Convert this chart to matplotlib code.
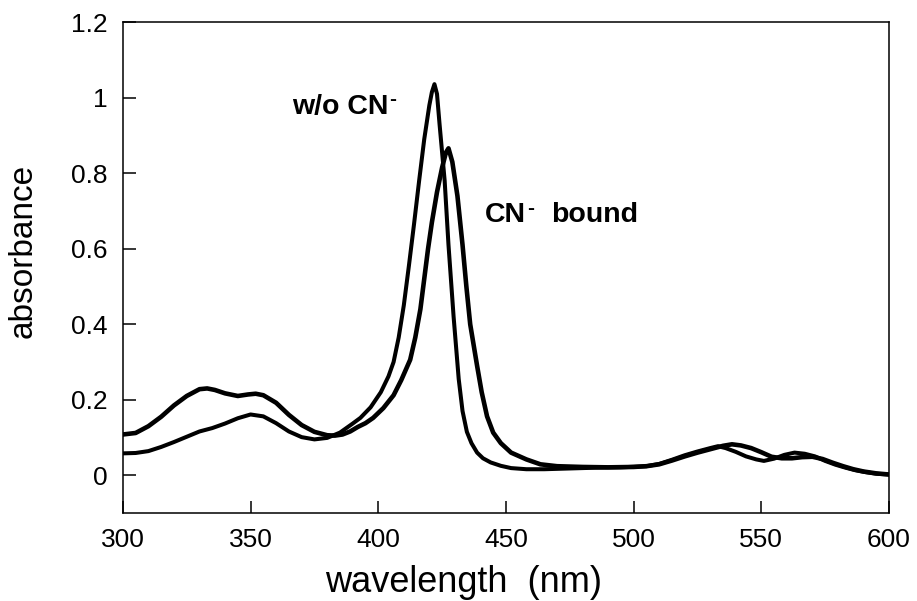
import matplotlib
matplotlib.use("Agg")
import matplotlib.pyplot as plt

plt.rcParams['font.family'] = ['Liberation Sans', 'DejaVu Sans']

# Spectrum without cyanide (w/o CN-)
wl_free = [300, 305, 310, 315, 320, 325, 330, 335, 340, 345, 350, 355, 360, 365, 370,
           375, 380, 385, 390, 393, 397, 401, 404, 406, 408, 410, 412, 414, 416, 418,
           420, 421, 422, 423, 424, 426, 427.5, 429.5, 431.5, 433, 434.7, 436.5, 438.7,
           441, 444, 448, 452, 458, 465, 475, 485, 495, 505, 510, 515, 520, 525, 530,
           533, 536, 540, 544, 548, 551, 555, 559, 563, 567, 571, 575, 579, 583, 587,
           591, 595, 600]
abs_free = [0.058, 0.059, 0.064, 0.075, 0.088, 0.102, 0.116, 0.125, 0.137, 0.151, 0.161,
            0.156, 0.138, 0.116, 0.101, 0.095, 0.099, 0.113, 0.137, 0.152, 0.180, 0.220,
            0.262, 0.300, 0.365, 0.450, 0.555, 0.665, 0.780, 0.890, 0.980, 1.015, 1.036,
            1.010, 0.930, 0.780, 0.610, 0.420, 0.255, 0.170, 0.115, 0.085, 0.060, 0.045,
            0.034, 0.025, 0.019, 0.016, 0.016, 0.018, 0.020, 0.021, 0.024, 0.030, 0.041,
            0.053, 0.063, 0.072, 0.077, 0.072, 0.062, 0.050, 0.042, 0.038, 0.044, 0.054,
            0.060, 0.057, 0.050, 0.038, 0.028, 0.020, 0.013, 0.008, 0.004, 0.002]

# Spectrum with cyanide bound
wl_cn = [300, 305, 310, 315, 320, 325, 330, 333, 336, 340, 345, 349, 352, 355, 360, 365,
         370, 375, 380, 383, 386, 389, 392, 395, 398, 402, 406, 409, 412.5, 414.5, 416.5,
         418, 419.5, 421, 423, 425, 426.5, 427.5, 429, 431, 433, 434.5, 436, 438.7, 440.5,
         442.6, 445, 448, 452, 458, 463.5, 470, 480, 490, 500, 505, 510, 515, 520, 525,
         530, 535, 538.5, 542, 546, 550, 554, 558, 562, 566, 570, 574, 578, 582, 586, 590,
         595, 600]
abs_cn = [0.108, 0.112, 0.130, 0.155, 0.185, 0.210, 0.228, 0.230, 0.226, 0.217, 0.210,
          0.214, 0.216, 0.212, 0.192, 0.160, 0.133, 0.115, 0.106, 0.105, 0.108, 0.116,
          0.128, 0.138, 0.152, 0.178, 0.212, 0.252, 0.306, 0.365, 0.440, 0.520, 0.600,
          0.670, 0.750, 0.815, 0.855, 0.866, 0.830, 0.740, 0.610, 0.500, 0.400, 0.290,
          0.220, 0.156, 0.113, 0.085, 0.060, 0.042, 0.029, 0.024, 0.022, 0.021, 0.022,
          0.024, 0.029, 0.039, 0.050, 0.060, 0.069, 0.078, 0.082, 0.079, 0.072, 0.061,
          0.049, 0.045, 0.045, 0.048, 0.049, 0.043, 0.033, 0.024, 0.016, 0.010, 0.005,
          0.002]

x_ticks = [300, 350, 400, 450, 500, 550, 600]
y_ticks = [0, 0.2, 0.4, 0.6, 0.8, 1.0, 1.2]
y_tick_labels = ['0', '0.2', '0.4', '0.6', '0.8', '1', '1.2']

fig = plt.figure(figsize=(9.17, 6.01), dpi=100)
ax = fig.add_axes([0.134, 0.1464, 0.8355, 0.8166])

ax.plot(wl_free, abs_free, color='black', lw=2.9, solid_joinstyle='round',
        solid_capstyle='round')
ax.plot(wl_cn, abs_cn, color='black', lw=3.3, solid_joinstyle='round',
        solid_capstyle='round')

ax.set_xlim(300, 600)
ax.set_ylim(-0.1, 1.2)
ax.set_xticks(x_ticks)
ax.set_yticks(y_ticks)
ax.set_yticklabels(y_tick_labels)

for s in ax.spines.values():
    s.set_linewidth(1.1)
ax.tick_params(axis='both', direction='in', length=9, width=1.1, labelsize=19,
               top=False, right=False)
ax.tick_params(axis='y', pad=11)
ax.tick_params(axis='x', pad=11)

ax.set_xlabel('wavelength  (nm)', fontsize=26)
ax.set_ylabel('absorbance', fontsize=24)
ax.xaxis.set_label_coords(0.445, -0.106)
ax.yaxis.set_label_coords(-0.110, 0.535)
ax.xaxis.label.set_va('top')

# annotations, with a short raised minus sign as a separate small text
t1 = ax.text(366.2, 0.958, 'w/o CN', fontsize=20.5, fontweight='bold', ha='left', va='baseline')
t2 = ax.text(441.9, 0.670, 'CN', fontsize=20.5, fontweight='bold', ha='left', va='baseline')
fig.canvas.draw()
r = fig.canvas.get_renderer()
inv = ax.transData.inverted()
for t in (t1, t2):
    bb = t.get_window_extent(renderer=r)
    x0, y0 = inv.transform((bb.x1 + 1, bb.y1 - 6))
    ax.text(x0, y0, '-', fontsize=15, fontweight='bold', ha='left', va='center')
bb2 = t2.get_window_extent(renderer=r)
xb, _ = inv.transform((bb2.x1 + 25, 0))
ax.text(xb, 0.670, 'bound', fontsize=20.5, fontweight='bold', ha='left', va='baseline')

fig.savefig('out.png', dpi=100)
